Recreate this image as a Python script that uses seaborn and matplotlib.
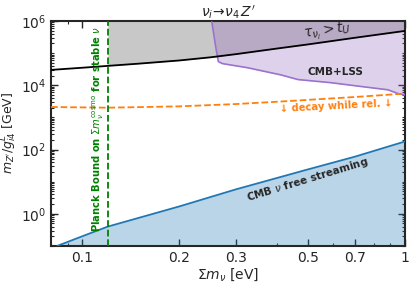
import numpy as np
import pandas as pd
import matplotlib
matplotlib.use("Agg")
import matplotlib.pyplot as plt
import seaborn as sns

# lifetime longer than age of the universe (black)
tau_x = [0.08, 0.1, 0.12, 0.15, 0.2, 0.25, 0.3, 0.4, 0.5, 0.7, 1.0]
tau_y = [3.0e4, 3.5e4, 4.0e4, 4.7e4, 5.9e4, 7.4e4, 9.3e4, 1.38e5, 1.86e5, 3.0e5, 4.9e5]

# CMB+LSS excluded region boundary (purple)
lss_x = [0.252, 0.259, 0.264, 0.272, 0.325, 0.412, 0.466, 0.589, 0.746, 0.885, 0.951, 0.986, 1.0]
lss_y = [9.3e5, 1.55e5, 5.4e4, 4.7e4, 3.5e4, 2.1e4, 1.5e4, 1.2e4, 8.9e3, 7.2e3, 5.5e3, 5.1e3, 5.0e3]

# decay while relativistic (orange dashed)
rel_x = [0.08, 0.12, 0.2, 0.3, 0.41, 0.5, 0.7, 1.0]
rel_y = [2.1e3, 2.0e3, 2.2e3, 2.6e3, 3.1e3, 3.5e3, 4.3e3, 5.5e3]

# CMB neutrino free streaming (blue)
fs_x = [0.0836, 0.1, 0.12, 0.2, 0.3, 0.5, 0.7, 1.0]
fs_y = [0.1, 0.2, 0.4, 1.7, 5.8, 24.0, 60.0, 178.0]

planck_mnu = 0.12
xlim = (0.08, 1.0)
ylim = (0.1, 1e6)
xticks = [0.1, 0.2, 0.3, 0.5, 0.7, 1.0]
xticklabels = ["0.1", "0.2", "0.3", "0.5", "0.7", "1"]
yticks = [1e0, 1e2, 1e4, 1e6]

sns.set_style("ticks", {"xtick.direction": "in", "ytick.direction": "in"})
plt.rcParams["font.family"] = ["DejaVu Sans"]

fig = plt.figure(figsize=(4.15, 2.83), dpi=100)
ax = fig.add_axes([0.123, 0.131, 0.853, 0.795])
ax.set_xscale("log")
ax.set_yscale("log")

# gray: stable on cosmological time, right of the Planck line
tx = np.array(tau_x)
ty = np.array(tau_y)
m = tx >= planck_mnu
ax.fill_between(tx[m], ty[m], ylim[1], color="#c8c8c8", lw=0, zorder=1)
ax.fill_between(lss_x, lss_y, ylim[1], color="tab:purple", alpha=0.3, lw=0, zorder=2)
ax.fill_between(fs_x, fs_y, 1e-3, color="tab:blue", alpha=0.3, lw=0, zorder=1)

df_tau = pd.DataFrame({"x": tau_x, "y": tau_y})
df_lss = pd.DataFrame({"x": lss_x, "y": lss_y})
df_rel = pd.DataFrame({"x": rel_x, "y": rel_y})
df_fs = pd.DataFrame({"x": fs_x, "y": fs_y})

sns.lineplot(data=df_tau, x="x", y="y", color="black", lw=1.3, ax=ax, sort=False, estimator=None, zorder=4)
sns.lineplot(data=df_lss, x="x", y="y", color="#9b72cf", lw=1.2, ax=ax, sort=False, estimator=None, zorder=3)
sns.lineplot(data=df_rel, x="x", y="y", color="tab:orange", lw=1.3, ls="--", ax=ax,
             sort=False, estimator=None, zorder=4)
sns.lineplot(data=df_fs, x="x", y="y", color="tab:blue", lw=1.3, ax=ax, sort=False, estimator=None, zorder=4)
ax.axvline(planck_mnu, color="green", ls="--", lw=1.3, zorder=5)

ax.set_xlim(*xlim)
ax.set_ylim(*ylim)
ax.set_xticks(xticks)
ax.set_xticklabels(xticklabels)
ax.set_yticks(yticks)
ax.yaxis.set_minor_locator(matplotlib.ticker.LogLocator(base=10, subs=np.arange(1, 10), numticks=20))
ax.yaxis.set_minor_formatter(matplotlib.ticker.NullFormatter())
ax.tick_params(which="both", top=True, right=True, direction="in", labelsize=10)
ax.tick_params(which="major", length=5, width=1)
ax.tick_params(which="minor", length=2.5, width=0.8)
for s in ax.spines.values():
    s.set_linewidth(1.5)

ax.set_xlabel(r"$\Sigma m_\nu$ [eV]", fontsize=10, labelpad=1)
ax.set_ylabel(r"$m_{Z'}/g^L_{i4}$ [GeV]", fontsize=9, labelpad=1)
ax.set_title(r"$\nu_i\!\to\!\nu_4\,Z'$", fontsize=10, pad=2)

ax.text(0.573, 4.6e5, r"$\tau_{\nu_i} > t_U$", fontsize=10, ha="center", va="center", rotation=8, zorder=6)
ax.text(0.607, 2.5e4, "CMB+LSS", fontsize=7.5, fontweight="bold", ha="center", va="center", zorder=6)
ax.text(0.61, 2.25e3, "↓ decay while rel. ↓", fontsize=7.2, fontweight="bold", color="tab:orange",
        ha="center", va="center", rotation=3, zorder=6)
ax.text(0.5, 11.7, r"CMB $\nu$ free streaming", fontsize=7.5, fontweight="bold",
        ha="center", va="center", rotation=17, zorder=6)
ax.text(0.112, 4.5e2, r"Planck Bound on $\Sigma m_\nu^{\rm cosmo}$ for stable $\nu$", fontsize=7.2,
        fontweight="bold", color="green", ha="center", va="center", rotation=90, zorder=6)

fig.savefig("out.png", dpi=100)
